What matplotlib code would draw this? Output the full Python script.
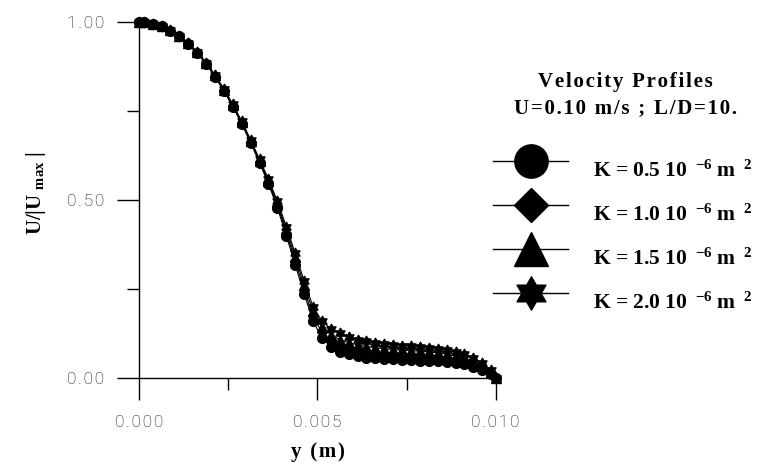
import matplotlib
matplotlib.use('Agg')
import matplotlib.pyplot as plt
from matplotlib.path import Path
from matplotlib.lines import Line2D

plt.rcParams['mathtext.fontset'] = 'custom'
plt.rcParams['mathtext.rm'] = 'Liberation Serif:bold'
plt.rcParams['mathtext.it'] = 'Liberation Serif:bold'
plt.rcParams['mathtext.bf'] = 'Liberation Serif:bold'
plt.rcParams['mathtext.default'] = 'bf'

# positions across the channel (m): wall, cell centres, wall
y_pos = [0.0, 0.000125, 0.000375, 0.000625, 0.000875, 0.001125, 0.001375, 0.001625,
         0.001875, 0.002125, 0.002375, 0.002625, 0.002875, 0.003125, 0.003375, 0.003625,
         0.003875, 0.004125, 0.004375, 0.004625, 0.004875, 0.005125, 0.005375, 0.005625,
         0.005875, 0.006125, 0.006375, 0.006625, 0.006875, 0.007125, 0.007375, 0.007625,
         0.007875, 0.008125, 0.008375, 0.008625, 0.008875, 0.009125, 0.009375, 0.009625,
         0.009875, 0.010]

u_k05 = [1.000, 1.000, 0.995, 0.988, 0.976, 0.960, 0.939, 0.913, 0.882, 0.846, 0.806,
         0.762, 0.713, 0.660, 0.604, 0.545, 0.478, 0.400, 0.318, 0.236, 0.160,
         0.112, 0.088, 0.074, 0.066, 0.061, 0.057, 0.055, 0.053, 0.052, 0.051,
         0.050, 0.049, 0.048, 0.047, 0.045, 0.042, 0.038, 0.031, 0.022, 0.010, 0.000]
u_k10 = [1.000, 1.000, 0.995, 0.988, 0.976, 0.961, 0.940, 0.914, 0.883, 0.848, 0.808,
         0.764, 0.716, 0.663, 0.607, 0.549, 0.484, 0.408, 0.329, 0.248, 0.173,
         0.128, 0.104, 0.091, 0.083, 0.077, 0.073, 0.070, 0.068, 0.066, 0.065,
         0.064, 0.063, 0.061, 0.059, 0.056, 0.052, 0.047, 0.039, 0.028, 0.014, 0.000]
u_k15 = [1.000, 1.000, 0.995, 0.989, 0.977, 0.961, 0.941, 0.915, 0.885, 0.850, 0.810,
         0.767, 0.719, 0.666, 0.610, 0.553, 0.491, 0.417, 0.340, 0.260, 0.187,
         0.144, 0.121, 0.108, 0.099, 0.093, 0.088, 0.085, 0.082, 0.080, 0.078,
         0.077, 0.075, 0.073, 0.071, 0.067, 0.062, 0.056, 0.047, 0.035, 0.018, 0.000]
u_k20 = [1.000, 1.000, 0.995, 0.989, 0.977, 0.962, 0.941, 0.916, 0.886, 0.851, 0.812,
         0.769, 0.721, 0.669, 0.614, 0.558, 0.497, 0.425, 0.350, 0.272, 0.200,
         0.160, 0.138, 0.125, 0.115, 0.108, 0.103, 0.099, 0.096, 0.093, 0.091,
         0.089, 0.087, 0.085, 0.082, 0.078, 0.073, 0.066, 0.056, 0.042, 0.022, 0.000]

k_values = ['0.5', '1.0', '1.5', '2.0']
x_ticks = [0.0, 0.005, 0.010]
x_ticklabels = ['0.000', '0.005', '0.010']
y_ticks = [0.0, 0.5, 1.0]
y_ticklabels = ['0.00', '0.50', '1.00']


def spaced(s, sp='\u200a'):
    # old plotting package letter-spaces its text
    return sp.join(s)


labels = [r'K = %s 10 $\,^{-6}$ m $\,^{2}$' % k for k in k_values]

# six-pointed star marker
hexagram = Path.unit_regular_star(6, 0.577)

# marker, size in plot, size in key
series = [(u_k05, 'o', 7.0, 24), (u_k10, 'D', 5.0, 17), (u_k15, '^', 7.0, 24),
          (u_k20, hexagram, 7.5, 24)]

serif_bold = {'family': 'Liberation Serif', 'weight': 'bold'}

W, H = 760, 467
fig = plt.figure(figsize=(7.6, 4.67), dpi=100)
ax = fig.add_axes([0.1833, 0.1906, 0.4689, 0.7623])

lines = []
for u, mk, ms, _ in series:
    h, = ax.plot(y_pos, u, color='black', lw=0.8, marker=mk, ms=ms,
                 mfc='black', mec='black', clip_on=False)
    lines.append(h)
# circles on top
for z, h in enumerate(lines):
    h.set_zorder(10 - z)

ax.set_xlim(0, 0.010)
ax.set_ylim(0, 1.0)
ax.spines['top'].set_visible(False)
ax.spines['right'].set_visible(False)
for s in ('left', 'bottom'):
    ax.spines[s].set_linewidth(1.0)

ax.set_xticks(x_ticks)
ax.set_xticklabels([spaced(t) for t in x_ticklabels])
ax.set_xticks([0.0025, 0.0075], minor=True)
ax.set_yticks(y_ticks)
ax.set_yticklabels([spaced(t) for t in y_ticklabels])
ax.set_yticks([0.25, 0.75], minor=True)
ax.tick_params(which='major', direction='out', length=16, width=1.0,
               labelsize=12.5, labelcolor='#111111')
ax.tick_params(axis='x', which='major', pad=11)
ax.tick_params(axis='y', which='major', pad=9)
ax.tick_params(which='minor', direction='out', length=8.5, width=1.0)
for t in ax.get_xticklabels() + ax.get_yticklabels():
    t.set_family(['Roboto', 'DejaVu Sans'])
    t.set_weight('light')

ax.set_xlabel(spaced('y (m)'), fontsize=15, **serif_bold)
ax.xaxis.set_label_coords(0.5, -0.18)
ax.set_ylabel(r'U/|U $_{max}$ |', fontsize=15, **serif_bold)
ax.yaxis.set_label_coords(-0.255, 0.52)

# key: title then one row per K value
fig.text(625 / W, 1 - 82 / H, spaced('Velocity Profiles'), ha='center', va='center',
         fontsize=15, **serif_bold)
fig.text(625 / W, 1 - 108 / H, spaced('U=0.10 m/s ; L/D=10.'), ha='center', va='center',
         fontsize=15, **serif_bold)

row_px = 161
for (u, mk, ms, key_ms), lab in zip(series, labels):
    fy = 1 - row_px / H
    fig.add_artist(Line2D([493 / W, 568 / W], [fy, fy], transform=fig.transFigure,
                          color='black', lw=1.0))
    fig.add_artist(Line2D([531 / W], [fy], transform=fig.transFigure, ls='none',
                          marker=mk, ms=key_ms, mfc='black', mec='black'))
    fig.text(593 / W, 1 - (row_px + 16) / H, lab, ha='left', va='baseline',
             fontsize=15.5, **serif_bold)
    row_px += 44

fig.savefig('out.png', dpi=100)
